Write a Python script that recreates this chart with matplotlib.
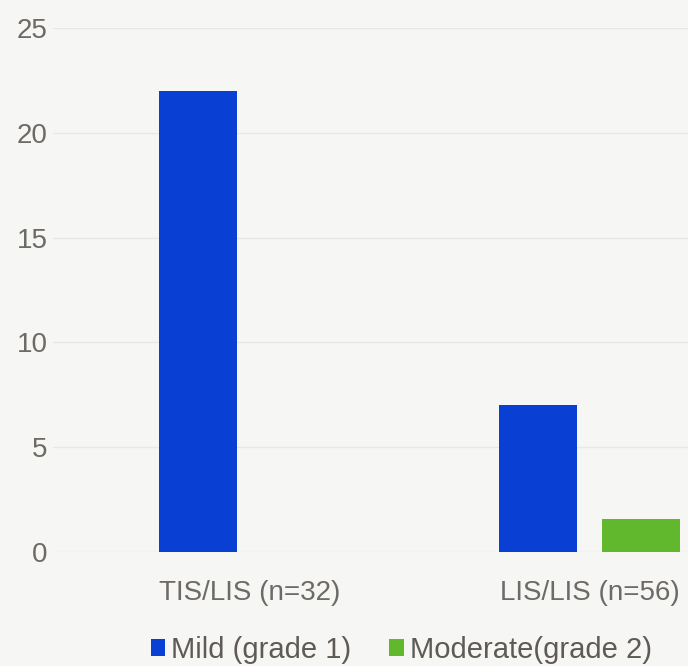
import matplotlib
matplotlib.use("Agg")
import matplotlib.pyplot as plt
import numpy as np

categories = ["TIS/LIS (n=32)", "LIS/LIS (n=56)"]
series_names = ["Mild (grade 1)", "Moderate(grade 2)"]
mild = [22, 7]
moderate = [0, 1.6]
yticks = [0, 5, 10, 15, 20, 25]

blue = "#0a3fd4"
green = "#62b82c"
txt = "#6e6a66"
bg = "#f6f6f4"

plt.rcParams['font.family'] = ['Liberation Sans', 'DejaVu Sans']

fig = plt.figure(figsize=(6.88, 6.66), dpi=100, facecolor=bg)
ax = fig.add_axes([0.077, 0.171, 0.923, 0.787], facecolor=bg)

x = np.arange(len(categories))
w = 0.23
off = 0.152
b1 = ax.bar(x - off, mild, w, color=blue, label=series_names[0], zorder=3)
b2 = ax.bar(x + off, moderate, w, color=green, label=series_names[1], zorder=3)

ax.set_ylim(0, 25)
ax.set_xlim(-0.58, 1.29)
ax.set_yticks(yticks)
ax.set_yticklabels([str(t) for t in yticks], color=txt, fontsize=20)
ax.set_xticks(x)
ax.set_xticklabels(categories, color=txt, fontsize=20)
ax.tick_params(axis='both', length=0)
ax.tick_params(axis='x', pad=20)
ax.tick_params(axis='y', pad=4)
ax.grid(axis='y', color="#e8e8e5", linewidth=1.0, zorder=0)
for s in ax.spines.values():
    s.set_visible(False)

leg = fig.legend(handles=[b1, b2], labels=series_names, loc='center',
                 bbox_to_anchor=(0.583, 0.024), ncol=2, frameon=False,
                 fontsize=21, handlelength=0.5, handleheight=0.5,
                 handletextpad=0.2, columnspacing=1.3)
for t in leg.get_texts():
    t.set_color("#5f5a56")

fig.savefig("out.png", dpi=100, facecolor=bg)
